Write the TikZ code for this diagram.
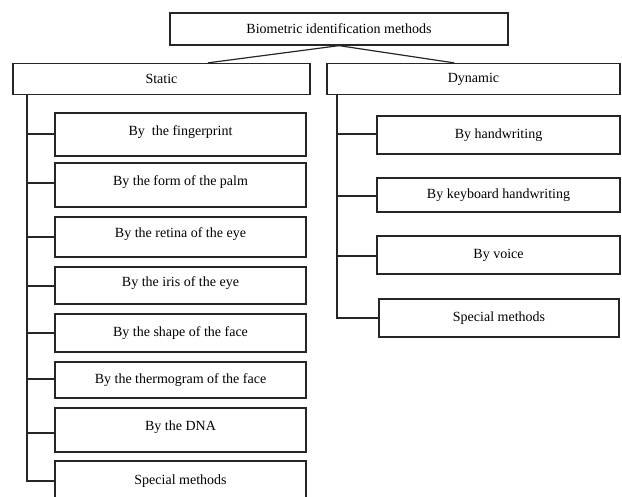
\documentclass[tikz,border=0pt]{standalone}
\usepackage{fontspec}
\setmainfont{Liberation Serif}
\begin{document}
\begin{tikzpicture}[x=1pt,y=-1pt,
  box/.style={draw=black!85, line width=1.3pt, rectangle, inner sep=0pt, font=\fontsize{14}{16}\selectfont},
  sbox/.style={box, minimum width=251pt, text height=10pt, text depth=8pt},
  cbox/.style={box, minimum width=251pt},
  dbox/.style={box, minimum width=243pt},
  conn/.style={draw=black!85, line width=1.2pt}]
\clip (0,0) rectangle (622,497);
\useasboundingbox (0,0) rectangle (622,497);
% top
\node[box, minimum width=338pt, minimum height=32pt] (top) at (339,29) {Biometric identification methods};
\node[box, minimum width=297pt, minimum height=31pt] (stat) at (161.5,79) {Static};
\node[box, minimum width=293pt, minimum height=31pt] (dyn) at (473.5,79) {Dynamic};
\draw[conn] (top.south) -- ([xshift=46.5pt]stat.north);
\draw[conn] (top.south) -- ([xshift=-19.5pt]dyn.north);
% static children
\node[sbox, minimum height=43pt] (s1) at (180.5,134.5) {By\ \ the fingerprint};
\node[sbox, minimum height=44pt] (s2) at (180.5,185) {By the form of the palm};
\node[sbox, minimum height=40pt] (s3) at (180.5,237) {By the retina of the eye};
\node[sbox, minimum height=37pt] (s4) at (180.5,285.5) {By the iris of the eye};
\node[cbox, minimum height=38pt] (s5) at (180.5,333) {By the shape of the face};
\node[cbox, minimum height=36pt] (s6) at (180.5,380) {By the thermogram of the face};
\node[sbox, minimum height=44pt] (s7) at (180.5,430) {By the DNA};
\node[sbox, minimum height=44pt] (s8) at (180.5,483) {Special methods};
\coordinate (st) at (27,95);
\coordinate (sb) at (27,481);
\draw[conn] (st) -- (sb) -- (sb -| s8.west);
\foreach \n/\yy in {s1/134,s2/183,s3/237,s4/286,s5/333,s6/379,s7/433}{
  \draw[conn] (27,\yy) -- (\n.west |- 0,\yy);
}
% dynamic children
\node[dbox, minimum height=38pt] (d1) at (498.5,135) {By handwriting};
\node[dbox, minimum height=34pt] (d2) at (498.5,195) {By keyboard handwriting};
\node[dbox, minimum height=38pt] (d3) at (498.5,255) {By voice};
\node[box, minimum width=240pt, minimum height=38pt] (d4) at (499,318) {Special methods};
\coordinate (dt) at (337,95);
\coordinate (db) at (337,318);
\draw[conn] (dt) -- (db) -- (d4.west);
\foreach \n/\yy in {d1/134,d2/196,d3/256}{
  \draw[conn] (337,\yy) -- (\n.west |- 0,\yy);
}
\end{tikzpicture}
\end{document}
